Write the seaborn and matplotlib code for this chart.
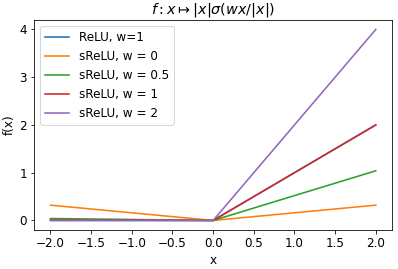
import numpy as np
import pandas as pd
import seaborn as sns
import matplotlib
matplotlib.use("Agg")
import matplotlib.pyplot as plt

plt.rcParams['font.size'] = 12

# data
x = [-2.0, 0.0, 2.0]
relu = [0.0, 0.0, 2.0]
srelu_w0 = [0.32, 0.0, 0.32]
srelu_w05 = [0.04, 0.0, 1.04]
srelu_w1 = [0.01, 0.0, 2.0]
srelu_w2 = [0.0, 0.0, 4.0]
labels = ['ReLU, w=1', 'sReLU, w = 0', 'sReLU, w = 0.5', 'sReLU, w = 1', 'sReLU, w = 2']

series = [relu, srelu_w0, srelu_w05, srelu_w1, srelu_w2]
df = pd.concat([pd.DataFrame({'x': x, 'f': s, 'name': lab}) for s, lab in zip(series, labels)],
               ignore_index=True)

fig, ax = plt.subplots(figsize=(398 / 72, 269 / 72), dpi=72)
sns.lineplot(data=df, x='x', y='f', hue='name', hue_order=labels,
             palette=sns.color_palette('tab10', 5), ax=ax, linewidth=1.6)
ax.set_xlabel('x')
ax.set_ylabel('f(x)')
ax.set_title(r'$f: x \mapsto |x|\sigma(wx/|x|)$')
ax.set_xticks(np.arange(-2, 2.01, 0.5))
ax.set_yticks([0, 1, 2, 3, 4])
ax.legend(title=None, loc='upper left')
fig.subplots_adjust(left=0.086, right=0.985, bottom=0.145, top=0.926)
fig.savefig('out.png', dpi=72)
